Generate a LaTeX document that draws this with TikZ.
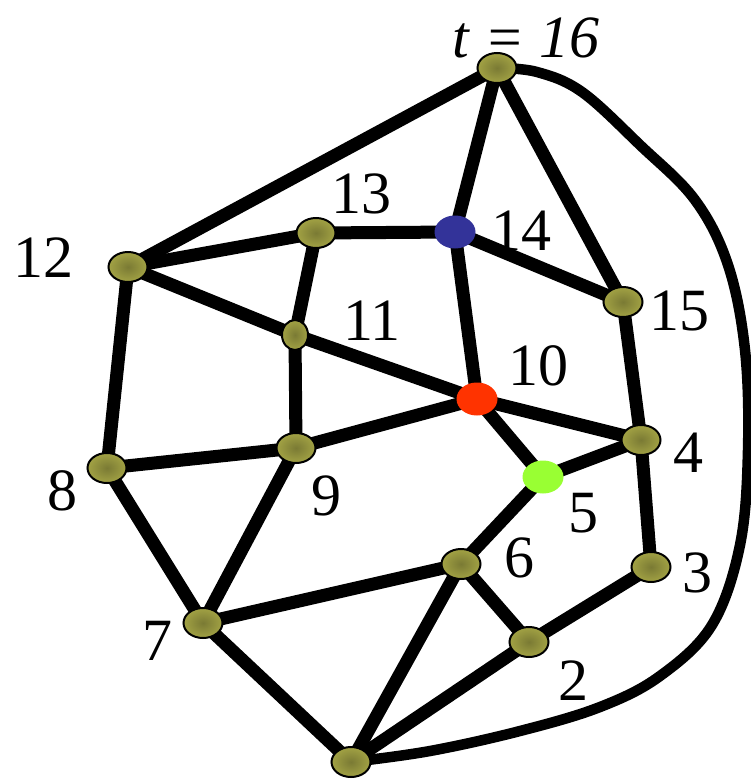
\documentclass[tikz,border=0pt]{standalone}
\usepackage{fontspec}
\setmainfont{Liberation Serif}
\usetikzlibrary{shapes.geometric,backgrounds}
\definecolor{olivein}{RGB}{122,122,52}
\definecolor{oliveout}{RGB}{162,162,68}
\definecolor{nodeblue}{RGB}{51,51,153}
\definecolor{nodered}{RGB}{255,51,0}
\definecolor{nodegreen}{RGB}{153,255,51}
\begin{document}
\begin{tikzpicture}[x=1pt,y=-1pt,
  vtx/.style={ellipse,minimum width=39pt,minimum height=30pt,inner sep=0pt,draw=black,line width=2pt,
    inner color=olivein,outer color=oliveout},
  vblue/.style={ellipse,minimum width=41pt,minimum height=33pt,inner sep=0pt,fill=nodeblue},
  vred/.style={ellipse,minimum width=41pt,minimum height=33pt,inner sep=0pt,fill=nodered},
  vgreen/.style={ellipse,minimum width=41pt,minimum height=33pt,inner sep=0pt,fill=nodegreen},
  lbl/.style={anchor=base,inner sep=0pt,font=\fontsize{60}{62}\selectfont},
  edge/.style={line width=13pt},
  loopline/.style={line width=10.5pt,line cap=round,line join=round}]
\useasboundingbox (0,0) rectangle (751,779);
% vertices
\node[vtx] (n16) at (497,68) {};
\node[vtx] (n12) at (128,267) {};
\node[vtx] (n13) at (316,233) {};
\node[vblue] (n14) at (455,232) {};
\node[vtx,minimum width=26pt,minimum height=30pt] (n11) at (295,335) {};
\node[vtx] (n15) at (623,302) {};
\node[vred] (n10) at (477,399) {};
\node[vtx] (n4) at (641,440) {};
\node[vgreen] (n5) at (543,477) {};
\node[vtx] (n8) at (107,468) {};
\node[vtx] (n9) at (296,448) {};
\node[vtx] (n6) at (461,564) {};
\node[vtx] (n3) at (651,567) {};
\node[vtx] (n7) at (203,623) {};
\node[vtx] (n2) at (529,642) {};
\node[vtx] (n1) at (351,762) {};
% labels
\node[lbl,font=\fontsize{60}{62}\selectfont\itshape] (l16) at (526,57) {t = 16};
\node[lbl] (l12) at (43,277) {12};
\node[lbl] (l13) at (361,213) {13};
\node[lbl] (l14) at (521,250) {14};
\node[lbl] (l11) at (372,340) {11};
\node[lbl] (l15) at (679,330) {15};
\node[lbl] (l10) at (538,385) {10};
\node[lbl] (l4) at (688,472) {4};
\node[lbl] (l5) at (583,532) {5};
\node[lbl] (l8) at (62,510) {8};
\node[lbl] (l9) at (326,515) {9};
\node[lbl] (l6) at (519,577) {6};
\node[lbl] (l3) at (697,592) {3};
\node[lbl] (l7) at (157,660) {7};
\node[lbl] (l2) at (573,700) {2};
% edges
\begin{scope}[on background layer]
\foreach \a/\b in {16/12,16/14,16/15,12/13,12/8,12/11,11/10,13/14,13/11,14/15,14/10,
  11/9,10/9,10/4,10/5,15/4,5/4,4/3,8/9,8/7,9/7,5/6,7/6,7/1,6/2,6/1,3/2,2/1}
  \draw[edge] (n\a.center) -- (n\b.center);
\draw[loopline] plot[smooth,tension=0.6] coordinates {(n16.center) (537,72) (582,92)
  (640,145) (695,200) (728,265) (745,350) (748,450) (740,545) (712,625) (660,676) (600,707)
  (520,731) (430,751) (n1.center)};
\end{scope}
\end{tikzpicture}
\end{document}
